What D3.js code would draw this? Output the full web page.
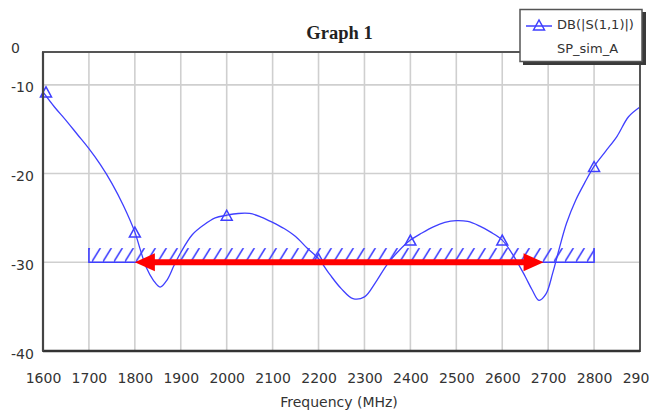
<!DOCTYPE html>
<html><head><meta charset="utf-8">
<script src="https://cdn.jsdelivr.net/npm/d3@7"></script>
<style>body{margin:0;background:#fff} svg{display:block}</style>
</head><body><svg id="c" width="649" height="414"></svg>
<script>
// ---- data ----
const freqs = [1600,1625,1650,1675,1700,1725,1750,1775,1800,1812,1825,1840,1855,1870,1885,1900,1925,1950,1975,2000,2025,2050,2075,2100,2125,2150,2175,2200,2225,2250,2275,2300,2325,2350,2375,2400,2425,2450,2475,2500,2525,2550,2575,2600,2625,2650,2665,2680,2695,2710,2725,2740,2760,2780,2800,2825,2850,2875,2900];
const s11dB = [-10.8,-12.5,-14.0,-15.6,-17.2,-19.0,-21.1,-23.6,-26.6,-28.6,-30.6,-32.0,-32.8,-32.0,-30.4,-28.9,-26.9,-25.8,-25.0,-24.7,-24.5,-24.5,-24.9,-25.5,-26.2,-27.1,-28.4,-29.6,-31.4,-33.0,-34.1,-33.9,-32.2,-30.2,-28.7,-27.5,-26.7,-26.0,-25.5,-25.3,-25.4,-25.9,-26.6,-27.5,-29.3,-31.6,-33.1,-34.3,-33.6,-31.2,-28.3,-25.6,-23.0,-21.0,-19.2,-17.5,-15.8,-13.6,-12.5];
const markerFreqs = [1600,1800,2000,2200,2400,2600,2800];
const xTicks = [1600,1700,1800,1900,2000,2100,2200,2300,2400,2500,2600,2700,2800,2900];
const yTicks = [0,-10,-20,-30,-40];
const specRange = [1700, 2800];
const specLevel = -30;
const specHatchTop = -28.4;
const arrowRange = [1800, 2690];
const titleText = "Graph 1";
const xTitleText = "Frequency (MHz)";
const legendLabels = ["DB(|S(1,1)|)", "SP_sim_A"];

// ---- layout ----
const svg = d3.select("#c");
const L = 43, R = 640, T = 52, B = 351;
const x = d3.scaleLinear().domain([1600, 2900]).range([L, R]);
const y = d3.scaleLinear().domain([-40, -6.3]).range([B, T]).clamp(true);
const blue = "#3f3fff";
const pts = freqs.map((f, i) => ({f, v: s11dB[i]}));

// grid
const g = svg.append("g");
g.selectAll("line.vx").data(xTicks.slice(1, -1)).join("line")
  .attr("x1", d => x(d)).attr("x2", d => x(d)).attr("y1", T).attr("y2", B)
  .attr("stroke", "#cfcfcf").attr("stroke-width", 1.6);
g.selectAll("line.hy").data(yTicks.filter(d => d > -40 && d < 0)).join("line")
  .attr("x1", L).attr("x2", R).attr("y1", d => y(d)).attr("y2", d => y(d))
  .attr("stroke", "#cfcfcf").attr("stroke-width", 1.6);

// spec band with hatch
const bandTop = y(specHatchTop), bandBot = y(specLevel);
const defs = svg.append("defs");
const pat = defs.append("pattern").attr("id", "hatch").attr("patternUnits", "userSpaceOnUse")
  .attr("x", x(specRange[0]) + 3).attr("y", bandTop).attr("width", 11).attr("height", bandBot - bandTop);
pat.append("path").attr("d", `M-1,${bandBot - bandTop + 1} L9,-1`).attr("stroke", blue).attr("stroke-width", 1.6).attr("fill", "none");
svg.append("rect").attr("x", x(specRange[0])).attr("y", bandTop)
  .attr("width", x(specRange[1]) - x(specRange[0])).attr("height", bandBot - bandTop)
  .attr("fill", "url(#hatch)");
svg.append("path")
  .attr("d", `M${x(specRange[0])},${bandTop} V${bandBot} H${x(specRange[1])} V${bandTop}`)
  .attr("fill", "none").attr("stroke", blue).attr("stroke-width", 1.6);

// clip
defs.append("clipPath").attr("id", "plot").append("rect").attr("x", L).attr("y", T).attr("width", R - L).attr("height", B - T);

// curve
const line = d3.line().x(d => x(d.f)).y(d => y(d.v)).curve(d3.curveCatmullRom.alpha(0.5));
svg.append("path").datum(pts).attr("clip-path", "url(#plot)")
  .attr("d", line).attr("fill", "none").attr("stroke", blue).attr("stroke-width", 1.3);

// markers
const tri = (cx, cy) => `M${cx - 5.5},${cy + 5} L${cx},${cy - 5} L${cx + 5.5},${cy + 5} Z`;
svg.append("g").selectAll("path").data(pts.filter(p => markerFreqs.includes(p.f))).join("path")
  .attr("d", d => tri(Math.max(x(d.f), L + 3), y(d.v)))
  .attr("fill", "none").attr("stroke", blue).attr("stroke-width", 1.5);

// red double arrow
const ay = y(specLevel), ax1 = x(arrowRange[0]), ax2 = x(arrowRange[1]);
const red = "#ff0000";
svg.append("line").attr("x1", ax1 + 15).attr("x2", ax2 - 15).attr("y1", ay).attr("y2", ay)
  .attr("stroke", red).attr("stroke-width", 6);
svg.append("path").attr("d", `M${ax1},${ay} L${ax1 + 20},${ay - 9} L${ax1 + 20},${ay + 9} Z`).attr("fill", red);
svg.append("path").attr("d", `M${ax2},${ay} L${ax2 - 20},${ay - 9} L${ax2 - 20},${ay + 9} Z`).attr("fill", red);

// frame
svg.append("rect").attr("x", L).attr("y", T).attr("width", R - L).attr("height", B - T)
  .attr("fill", "none").attr("stroke", "#555").attr("stroke-width", 2);
svg.append("line").attr("x1", L).attr("x2", R).attr("y1", B).attr("y2", B).attr("stroke", "#333").attr("stroke-width", 2.4);
svg.append("line").attr("x1", L).attr("x2", L).attr("y1", T).attr("y2", B).attr("stroke", "#444").attr("stroke-width", 2.2);

// axes
const font = "'DejaVu Sans', sans-serif";
const fmt = d => String(d);
const xa = svg.append("g").attr("transform", `translate(0,${B})`)
  .call(d3.axisBottom(x).tickValues(xTicks).tickSize(0).tickPadding(22).tickFormat(fmt));
xa.select(".domain").remove();
xa.selectAll("text").attr("font-family", font).attr("font-size", 14).attr("fill", "#333");

const ya = svg.append("g").attr("transform", `translate(${L},0)`)
  .call(d3.axisLeft(y).tickValues(yTicks).tickSize(0).tickFormat(fmt));
ya.select(".domain").remove();
ya.selectAll("text").attr("font-family", font).attr("font-size", 14).attr("fill", "#333")
  .attr("text-anchor", "start").attr("x", 11 - L).attr("dy", d => d === 0 ? "0em" : "0.5em");

// titles
svg.append("text").attr("x", 339.5).attr("y", 39).attr("text-anchor", "middle")
  .attr("font-family", "'Liberation Serif', serif").attr("font-weight", "bold").attr("font-size", 18.5)
  .attr("fill", "#222").text(titleText);
svg.append("text").attr("x", 339).attr("y", 407).attr("text-anchor", "middle")
  .attr("font-family", font).attr("font-size", 14).attr("fill", "#333").text(xTitleText);

// legend
const lg = svg.append("g");
lg.append("rect").attr("x", 523).attr("y", 12).attr("width", 123).attr("height", 53).attr("fill", "#3a3a3a");
lg.append("rect").attr("x", 520).attr("y", 9.5).attr("width", 122).attr("height", 52)
  .attr("fill", "#fff").attr("stroke", "#555").attr("stroke-width", 1.5);
lg.append("line").attr("x1", 526).attr("x2", 552).attr("y1", 26).attr("y2", 26).attr("stroke", blue).attr("stroke-width", 1.5);
lg.append("path").attr("d", tri(539, 25)).attr("fill", "none").attr("stroke", blue).attr("stroke-width", 1.5);
lg.selectAll("text").data(legendLabels).join("text")
  .attr("x", 557).attr("y", (d, i) => 29 + i * 24)
  .attr("font-family", font).attr("font-size", 13).attr("fill", "#333").text(d => d);
</script></body></html>
